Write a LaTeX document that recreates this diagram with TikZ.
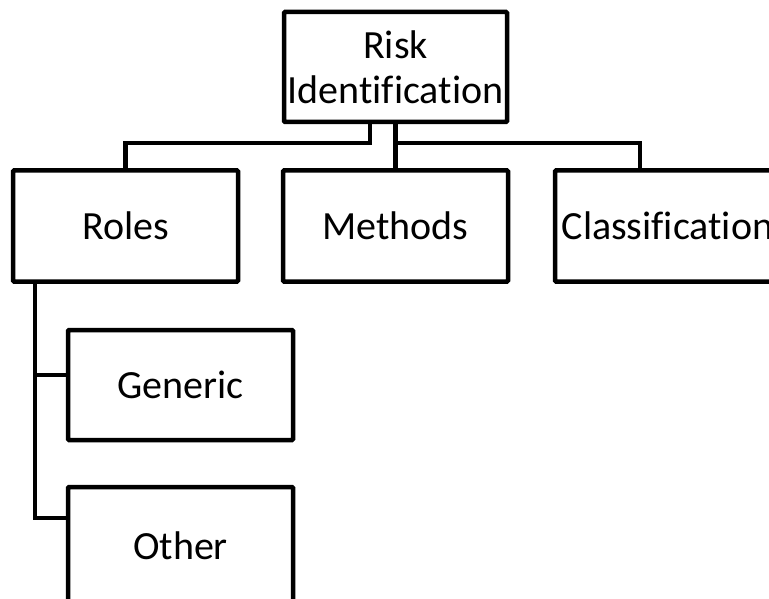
\documentclass[tikz,border=0pt]{standalone}
\usepackage{fontspec}
\setmainfont[Ligatures=NoCommon]{Carlito}
\begin{document}
\begin{tikzpicture}[x=1pt,y=-1pt,
  box/.style={draw=black, line width=4.5pt, rounded corners=1pt, fill=white,
    minimum width=225pt, minimum height=111pt, inner sep=0pt, align=center,
    font=\fontsize{40}{45}\selectfont},
  link/.style={draw=black, line width=4.5pt}]
\useasboundingbox (0,0) rectangle (769,599);
\clip (0,0) rectangle (769,599);

% boxes
\node[box, minimum width=223pt, minimum height=110pt] (top) at (395.5,67) {Risk\\Identification};
\node[box] (roles) at (125.5,226) {Roles};
\node[box] (methods) at (395.5,226) {Methods};
\node[box] (class) at (667.5,226) {Classification};
\node[box, minimum height=110pt] (generic) at (180.5,385) {Generic};
\node[box, minimum height=118pt] (other) at (180.5,546) {Other};

% bus and spine points
\coordinate (busL) at (370,143);
\coordinate (spine) at (35,300);

% connectors
\draw[link] (top.south -| busL) -- (busL) -| (roles.north);
\draw[link] (top.south) -- (methods.north);
\draw[link] (top.south |- busL) -| ([xshift=-27.5pt]class.north);
\draw[link] (roles.south -| spine) |- ([yshift=10pt]generic.west);
\draw[link] (roles.south -| spine) |- ([yshift=28pt]other.west);
\end{tikzpicture}
\end{document}
